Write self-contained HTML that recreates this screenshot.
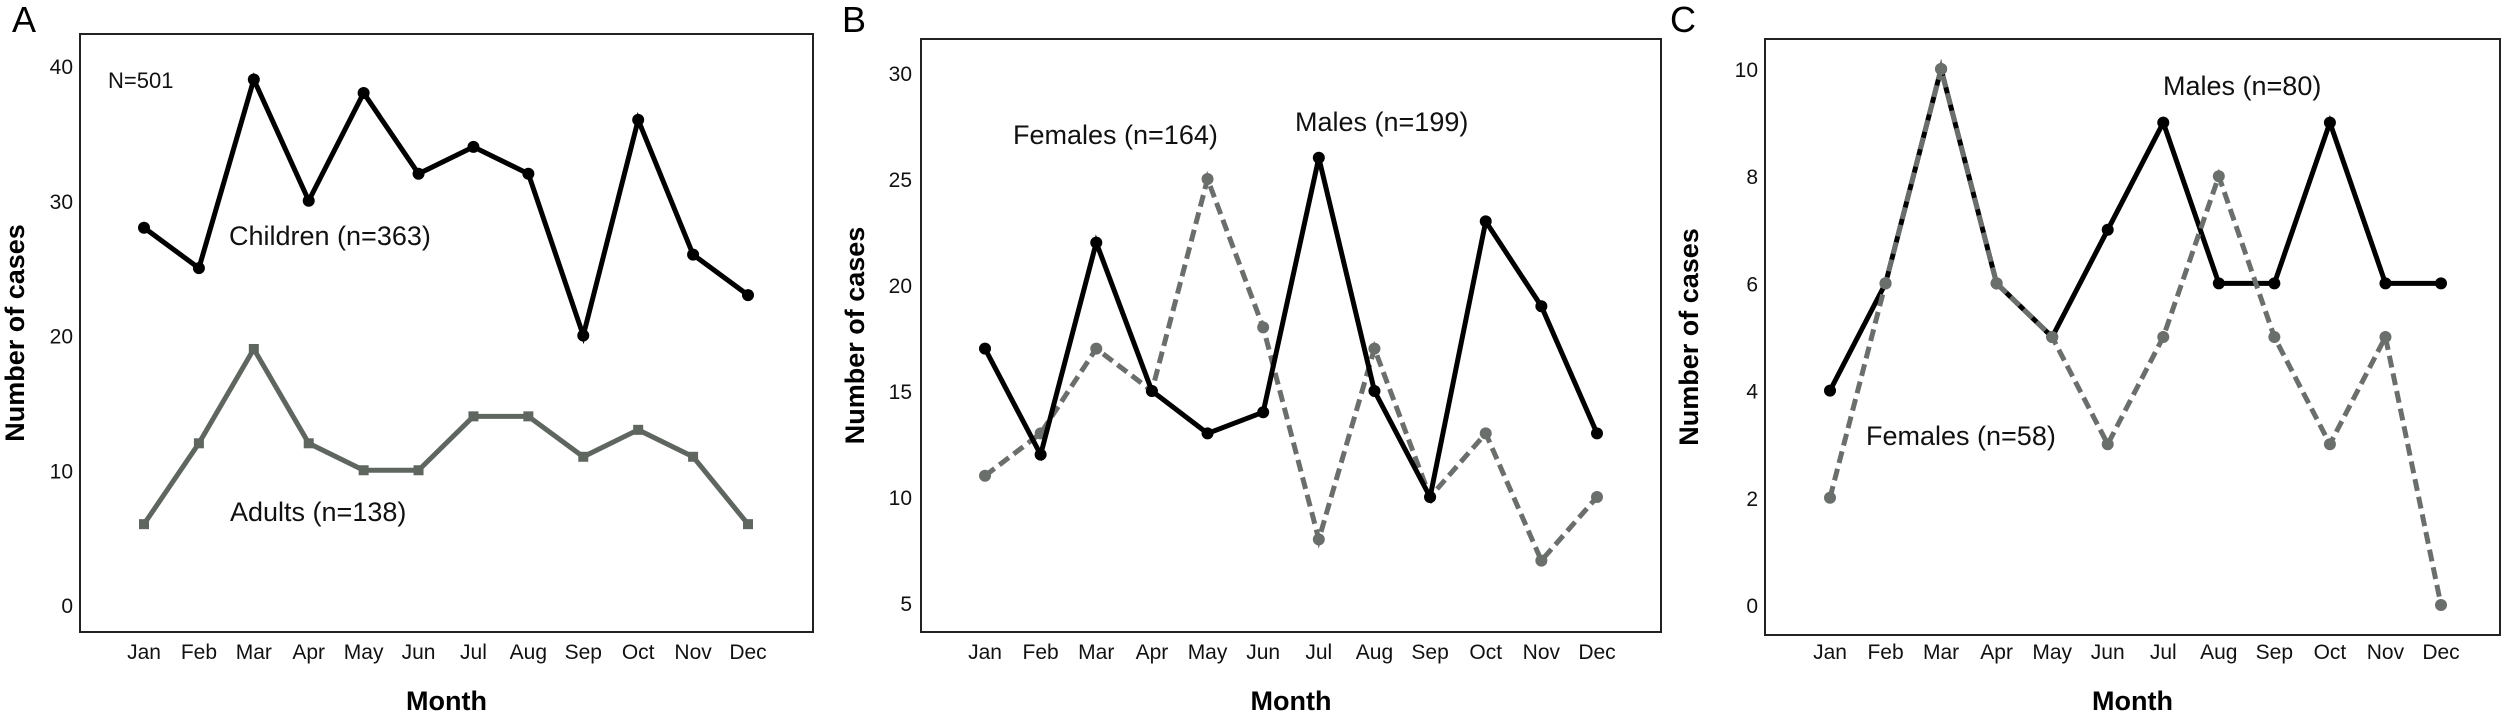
<!DOCTYPE html>
<html><head><meta charset="utf-8"><style>
body{margin:0;background:#fff;}
svg{display:block;font-family:"Liberation Sans",Arial,sans-serif;}
</style></head><body>
<svg id="fig" width="2508" height="716" viewBox="0 0 2508 716"></svg>
<script>
const months = ["Jan","Feb","Mar","Apr","May","Jun","Jul","Aug","Sep","Oct","Nov","Dec"];
const childrenA = [28,25,39,30,38,32,34,32,20,36,26,23];
const adultsA = [6,12,19,12,10,10,14,14,11,13,11,6];
const ticksA = [0,10,20,30,40];
const malesB = [17,12,22,15,13,14,26,15,10,23,19,13];
const femalesB = [11,13,17,15,25,18,8,17,10,13,7,10];
const ticksB = [5,10,15,20,25,30];
const malesC = [4,6,10,6,5,7,9,6,6,9,6,6];
const femalesC = [2,6,10,6,5,3,5,8,5,3,5,0];
const ticksC = [0,2,4,6,8,10];

const NS="http://www.w3.org/2000/svg";
const svg=document.getElementById('fig');
function mk(tag,attrs,parent,text){const e=document.createElementNS(NS,tag);for(const k in attrs)e.setAttribute(k,attrs[k]);if(text!==undefined)e.textContent=text;(parent||svg).appendChild(e);return e;}

function panel(cfg){
  const g=mk('g',{});
  
  
  const L=mk('text',{x:cfg.letterX,y:32,'font-size':36},g,cfg.letter);
  
  
  const fr=mk('rect',{x:cfg.fx0,y:cfg.fy0,width:cfg.fx1-cfg.fx0,height:cfg.fy1-cfg.fy0,fill:'none',stroke:'#222','stroke-width':2},g);
  
  
  const y=v=>cfg.y0px+(v-cfg.v0)*(cfg.y1px-cfg.y0px)/(cfg.v1-cfg.v0);
  const x=i=>cfg.xJan+i*(cfg.xDec-cfg.xJan)/11;
  cfg.ticks.forEach(t=>{
    const e=mk('text',{x:cfg.tickX,y:y(t)+8,'font-size':21,'text-anchor':'end',fill:'#111'},g,String(t));
    
    
  });
  months.forEach((m,i)=>{
    const e=mk('text',{x:x(i),y:659,'font-size':21,'text-anchor':'middle',fill:'#111'},g,m);
    
    
  });
  const xt=mk('text',{x:(cfg.fx0+cfg.fx1)/2,y:710,'font-size':27,'font-weight':'bold','text-anchor':'middle'},g,'Month');
  
  
  const cy=(cfg.fy0+cfg.fy1)/2;
  const yt=mk('text',{x:0,y:0,'font-size':27,'font-weight':'bold','text-anchor':'middle',transform:`translate(${cfg.ytX},${cy}) rotate(-90)`},g,'Number of cases');
  
  
  cfg.series.forEach(s=>{
    const pts=s.data.map((v,i)=>x(i)+','+y(v)).join(' ');
    const pl=mk('polyline',{points:pts,fill:'none',stroke:s.color,'stroke-width':5,'stroke-dasharray':s.dash||'none','stroke-linejoin':'miter'},g);
    
    
    s.data.forEach((v,i)=>{
      let m;
      if(s.square) m=mk('rect',{x:x(i)-5,y:y(v)-5,width:10,height:10,fill:s.color},g);
      else m=mk('circle',{cx:x(i),cy:y(v),r:6,fill:s.color},g);
      
      
    });
  });
  cfg.labels.forEach(l=>{
    const e=mk('text',{x:l.x,y:l.y,'font-size':l.fs||27,fill:'#111'},g,l.t);
    
    
  });
}

panel({id:'a',letter:'A',letterX:12,fx0:80,fx1:813,fy0:34,fy1:632,v0:0,v1:40,y0px:605,y1px:66,xJan:144,xDec:748,tickX:73,ytX:24,ticks:ticksA,
  series:[{name:'children',data:childrenA,color:'#000'},{name:'adults',data:adultsA,color:'#5f6660',square:true}],
  labels:[{t:'N=501',x:108,y:88,fs:22,name:'total-n-label'},{t:'Children (n=363)',x:229,y:245,name:'children-label'},{t:'Adults (n=138)',x:230,y:521,name:'adults-label'}]});
panel({id:'b',letter:'B',letterX:842,fx0:921,fx1:1661,fy0:39,fy1:632,v0:5,v1:30,y0px:603,y1px:73,xJan:985,xDec:1597,tickX:912,ytX:864,ticks:ticksB,
  series:[{name:'females',data:femalesB,color:'#6b6f6c',dash:'12,6'},{name:'males',data:malesB,color:'#000'}],
  labels:[{t:'Females (n=164)',x:1013,y:144,name:'females-label'},{t:'Males (n=199)',x:1295,y:131,name:'males-label'}]});
panel({id:'c',letter:'C',letterX:1670,fx0:1765,fx1:2500,fy0:39,fy1:635,v0:0,v1:10,y0px:605,y1px:69,xJan:1830,xDec:2441,tickX:1758,ytX:1698,ticks:ticksC,
  series:[{name:'males',data:malesC,color:'#000'},{name:'females',data:femalesC,color:'#6b6f6c',dash:'12,6'}],
  labels:[{t:'Males (n=80)',x:2163,y:95,name:'males-label'},{t:'Females (n=58)',x:1866,y:445,name:'females-label'}]});
</script>
</body></html>
